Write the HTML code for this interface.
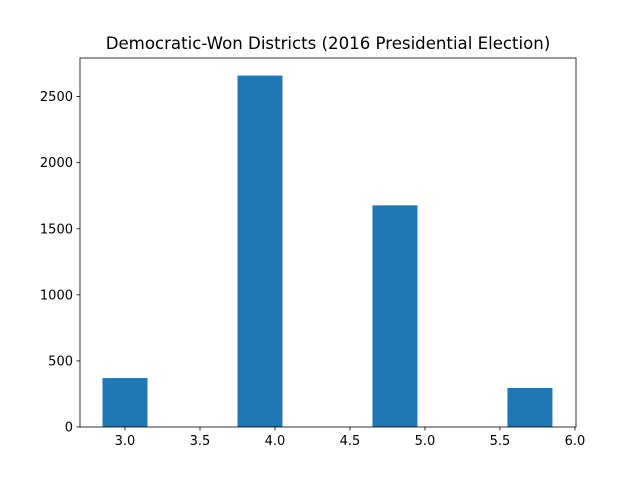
<!DOCTYPE html>
<html><head><meta charset="utf-8"><style>
body{margin:0;background:#fff;}
svg text{font-family:"DejaVu Sans","Liberation Sans",sans-serif;}
</style></head><body>
<svg id="chart" width="640" height="480" xmlns="http://www.w3.org/2000/svg">
<rect width="640" height="480" fill="#fff"/>
<text x="328" y="49" font-size="16.6" text-anchor="middle" fill="#000">Democratic-Won Districts (2016 Presidential Election)</text>
<g id="bars"></g>
<g id="axes"></g>
</svg>
<script>
const binStarts=[2.85,3.75,4.65,5.55];
const counts=[370,2659,1677,295];
const binWidth=0.3;
const xTicks=[3.0,3.5,4.0,4.5,5.0,5.5,6.0];
const xTickLabels=["3.0","3.5","4.0","4.5","5.0","5.5","6.0"];
const yTicks=[0,500,1000,1500,2000,2500];
const yTickLabels=["0","500","1000","1500","2000","2500"];
const L=80,R=576,T=58,B=427;
const xMin=2.7,xMax=6.0072;
const yMax=Math.max(...counts)*1.05;
const X=v=>L+(v-xMin)/(xMax-xMin)*(R-L);
const Y=v=>B-v/yMax*(B-T);
const ns="http://www.w3.org/2000/svg";
const bars=document.getElementById('bars');
counts.forEach((c,i)=>{
 const r=document.createElementNS(ns,'rect');
 r.setAttribute('x',X(binStarts[i]));
 r.setAttribute('width',X(binStarts[i]+binWidth)-X(binStarts[i]));
 r.setAttribute('y',Y(c));
 r.setAttribute('height',Y(0)-Y(c));
 r.setAttribute('fill','#1f77b4');
 
 
 bars.appendChild(r);
});
const ax=document.getElementById('axes');
const frame=document.createElementNS(ns,'rect');
frame.setAttribute('x',L);frame.setAttribute('y',T);frame.setAttribute('width',R-L);frame.setAttribute('height',B-T);
frame.setAttribute('fill','none');frame.setAttribute('stroke','#000');frame.setAttribute('stroke-width','0.8');


ax.appendChild(frame);
xTicks.forEach((t,i)=>{
 const x=X(t);
 const l=document.createElementNS(ns,'line');
 l.setAttribute('x1',x);l.setAttribute('x2',x);l.setAttribute('y1',B);l.setAttribute('y2',B+3.5);
 l.setAttribute('stroke','#000');l.setAttribute('stroke-width','0.8');
 
 
 ax.appendChild(l);
 const tx=document.createElementNS(ns,'text');
 tx.setAttribute('x',x);tx.setAttribute('y',B+18);tx.setAttribute('font-size','13');tx.setAttribute('text-anchor','middle');
 tx.textContent=xTickLabels[i];
 
 
 ax.appendChild(tx);
});
yTicks.forEach((t,i)=>{
 const y=Y(t);
 const l=document.createElementNS(ns,'line');
 l.setAttribute('x1',L-3.5);l.setAttribute('x2',L);l.setAttribute('y1',y);l.setAttribute('y2',y);
 l.setAttribute('stroke','#000');l.setAttribute('stroke-width','0.8');
 
 
 ax.appendChild(l);
 const tx=document.createElementNS(ns,'text');
 tx.setAttribute('x',L-7);tx.setAttribute('y',y+4.5);tx.setAttribute('font-size','13');tx.setAttribute('text-anchor','end');
 tx.textContent=yTickLabels[i];
 
 
 ax.appendChild(tx);
});
</script>
</body></html>
